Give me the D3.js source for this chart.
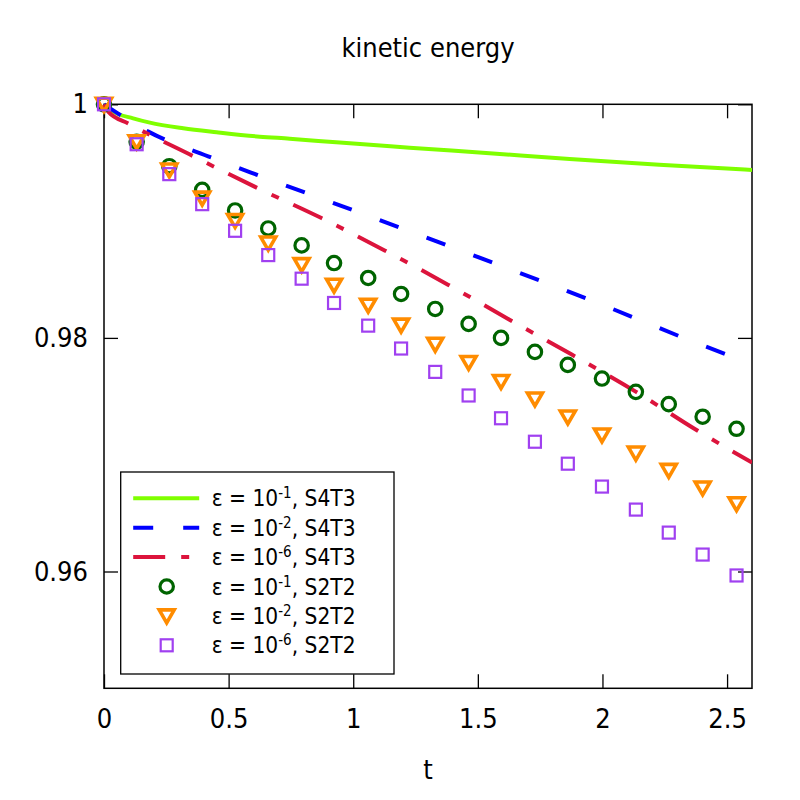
<!DOCTYPE html>
<html>
<head>
<meta charset="utf-8">
<script src="https://cdn.jsdelivr.net/npm/d3@7"></script>
<style>
  body { margin: 0; background: #fff; }
  text { font-family: "DejaVu Sans Condensed", "DejaVu Sans", sans-serif; font-stretch: condensed; fill: #000; }
</style>
</head>
<body>
<div id="chart"></div>
<script>
// marker times (S2T2 runs)
const markerT = [0, 0.131, 0.262, 0.394, 0.526, 0.659, 0.793, 0.923, 1.060, 1.192,
    1.329, 1.463, 1.593, 1.729, 1.861, 1.998, 2.134, 2.266, 2.402, 2.538];

const s2t2Eps1 = [1.0, 0.99680, 0.99470, 0.99268, 0.99091, 0.98937, 0.98792, 0.98641, 0.98513, 0.98376,
    0.98248, 0.98120, 0.98000, 0.97880, 0.97769, 0.97652, 0.97538, 0.97433, 0.97325, 0.97222];
const s2t2Eps2 = [1.0, 0.99680, 0.99438, 0.99197, 0.99005, 0.98812, 0.98627, 0.98451, 0.98280, 0.98109,
    0.97945, 0.97790, 0.97627, 0.97477, 0.97323, 0.97169, 0.97014, 0.96866, 0.96715, 0.96580];
const s2t2Eps6 = [1.0, 0.99658, 0.99402, 0.99145, 0.98917, 0.98709, 0.98507, 0.98299, 0.98105, 0.97909,
    0.97709, 0.97507, 0.97312, 0.97111, 0.96923, 0.96727, 0.96530, 0.96333, 0.96145, 0.95966];

// S4T3 curves
const s4t3Eps1T = [0, 0.037, 0.117, 0.184, 0.318, 0.452, 0.625, 0.745, 0.946, 1.226, 1.547, 1.868, 2.228, 2.6];
const s4t3Eps1 = [1, 0.99937, 0.99880, 0.99843, 0.99795, 0.99761, 0.99723, 0.99706, 0.99672, 0.99629, 0.99581, 0.99532, 0.99482, 0.99438];

const s4t3Eps2T = [0, 0.178, 0.438, 0.625, 0.949, 1.606, 1.988, 2.373, 2.6];
const s4t3Eps2 = [1, 0.99766, 0.99538, 0.99387, 0.99133, 0.98607, 0.98293, 0.97960, 0.97776];

const s4t3Eps6T = [0, 0.017, 0.101, 0.356, 0.445, 0.612, 0.8725, 1.126, 1.380, 1.627, 1.877, 2.135, 2.369, 2.6];
const s4t3Eps6 = [1, 0.99937, 0.99832, 0.99558, 0.99462, 0.99287, 0.99026, 0.98749, 0.98456, 0.98156, 0.97857, 0.97538, 0.97222, 0.96932];

const xTicks = [0, 0.5, 1, 1.5, 2, 2.5];
const yTicks = [0.96, 0.98, 1];

const legendLabels = [
    { exp: "-1", scheme: "S4T3" },
    { exp: "-2", scheme: "S4T3" },
    { exp: "-6", scheme: "S4T3" },
    { exp: "-1", scheme: "S2T2" },
    { exp: "-2", scheme: "S2T2" },
    { exp: "-6", scheme: "S2T2" }
];

const W = 800, H = 800;
const margin = { top: 104.3, right: 48, bottom: 111.7, left: 104 };
const width = W - margin.left - margin.right;
const height = H - margin.top - margin.bottom;

const svg = d3.select("#chart").append("svg")
    .attr("width", W)
    .attr("height", H);

const g = svg.append("g")
    .attr("transform", "translate(" + margin.left + "," + margin.top + ")");

const x = d3.scaleLinear().domain([0, 2.6]).range([0, width]);
const y = d3.scaleLinear().domain([0.95, 1]).range([height, 0]);

// title
svg.append("text")
    .attr("x", margin.left + width / 2)
    .attr("y", 56.7)
    .attr("text-anchor", "middle")
    .style("font-size", "27px")
    .text("kinetic energy");

// axes, ticks pointing inward on all four sides
const tickLen = 14;
const xAxis = d3.axisBottom(x).tickValues(xTicks).tickSizeInner(-tickLen).tickSizeOuter(0)
    .tickPadding(0).tickFormat(d3.format("~g"));
const yAxis = d3.axisLeft(y).tickValues(yTicks).tickSizeInner(-tickLen).tickSizeOuter(0)
    .tickPadding(16).tickFormat(d3.format("~g"));

g.append("g").attr("class", "x-axis")
    .attr("transform", "translate(0," + height + ")")
    .call(xAxis);
g.append("g").attr("class", "x-axis-top")
    .call(d3.axisTop(x).tickValues(xTicks).tickSizeInner(-tickLen).tickSizeOuter(0).tickFormat(""));
g.append("g").attr("class", "y-axis")
    .call(yAxis);
g.append("g").attr("class", "y-axis-right")
    .attr("transform", "translate(" + width + ",0)")
    .call(d3.axisRight(y).tickValues(yTicks).tickSizeInner(-tickLen).tickSizeOuter(0).tickFormat(""));

g.selectAll(".domain").remove();
g.selectAll(".tick line").attr("stroke", "#000").attr("stroke-width", 1.3);
g.selectAll(".x-axis .tick text, .y-axis .tick text")
    .style("font-size", "27px")
    .attr("fill", "#000");
// put x tick labels on a fixed baseline
g.selectAll(".x-axis .tick text")
    .attr("dy", null)
    .attr("y", 40);

g.append("rect")
    .attr("width", width)
    .attr("height", height)
    .attr("fill", "none")
    .attr("stroke", "#000")
    .attr("stroke-width", 1.5);

// x label
svg.append("text")
    .attr("x", margin.left + width / 2)
    .attr("y", 779)
    .attr("text-anchor", "middle")
    .style("font-size", "27px")
    .text("t");

// lines
const lineGen = d3.line()
    .x(d => x(d[0]))
    .y(d => y(d[1]))
    .curve(d3.curveMonotoneX);

const lineSeries = [
    { t: s4t3Eps1T, v: s4t3Eps1, color: "#7fff00", dash: null },
    { t: s4t3Eps2T, v: s4t3Eps2, color: "#0000ff", dash: "20,30" },
    { t: s4t3Eps6T, v: s4t3Eps6, color: "#dc143c", dash: "32,16,8,16" }
];

g.append("clipPath").attr("id", "clip")
    .append("rect").attr("x", -10).attr("y", -10).attr("width", width + 10).attr("height", height + 10);

lineSeries.forEach(function(s) {
    g.append("path")
        .datum(s.t.map((t, i) => [t, s.v[i]]))
        .attr("fill", "none")
        .attr("stroke", s.color)
        .attr("stroke-width", 4)
        .attr("stroke-dasharray", s.dash)
        .attr("clip-path", "url(#clip)")
        .attr("d", lineGen);
});

// marker shapes
function drawCircle(sel, color) {
    sel.append("circle").attr("r", 6.7)
        .attr("fill", "none").attr("stroke", color).attr("stroke-width", 3.2);
}
function drawTriangle(sel, color) {
    sel.append("path").attr("d", "M-7.5,-6L7.5,-6L0,7Z")
        .attr("fill", "none").attr("stroke", color).attr("stroke-width", 3.6)
        .attr("stroke-linejoin", "miter");
}
function drawSquare(sel, color) {
    sel.append("rect").attr("x", -6).attr("y", -6).attr("width", 12).attr("height", 12)
        .attr("fill", "none").attr("stroke", color).attr("stroke-width", 2.2);
}

const markerSeries = [
    { v: s2t2Eps1, color: "#006400", draw: drawCircle },
    { v: s2t2Eps2, color: "#ff8c00", draw: drawTriangle },
    { v: s2t2Eps6, color: "#a040f0", draw: drawSquare }
];

markerSeries.forEach(function(s) {
    g.append("g").selectAll("g")
        .data(markerT.map((t, i) => [t, s.v[i]]))
        .enter().append("g")
        .attr("transform", d => "translate(" + x(d[0]) + "," + y(d[1]) + ")")
        .each(function() { s.draw(d3.select(this), s.color); });
});

// legend
const legend = svg.append("g").attr("transform", "translate(120.7,472)");
legend.append("rect")
    .attr("width", 273.3)
    .attr("height", 202)
    .attr("fill", "#fff")
    .attr("stroke", "#000")
    .attr("stroke-width", 1.3);

const rowY0 = 26.3, rowStep = 29.4;
legendLabels.forEach(function(d, i) {
    const ry = rowY0 + i * rowStep;
    const row = legend.append("g").attr("transform", "translate(0," + ry + ")");
    if (i < 3) {
        const s = lineSeries[i];
        row.append("line")
            .attr("x1", 12.5).attr("x2", 78.5)
            .attr("stroke", s.color).attr("stroke-width", 4)
            .attr("stroke-dasharray", s.dash);
    } else {
        const s = markerSeries[i - 3];
        const m = row.append("g").attr("transform", "translate(46,0)");
        s.draw(m, s.color);
    }
    const txt = row.append("text")
        .attr("x", 91)
        .attr("y", 8)
        .style("font-size", "22.5px");
    txt.append("tspan").text("\u03b5 = 10");
    txt.append("tspan").attr("dy", -8).style("font-size", "15px").text(d.exp);
    txt.append("tspan").attr("dy", 8).text(", " + d.scheme);
});
</script>
</body>
</html>
